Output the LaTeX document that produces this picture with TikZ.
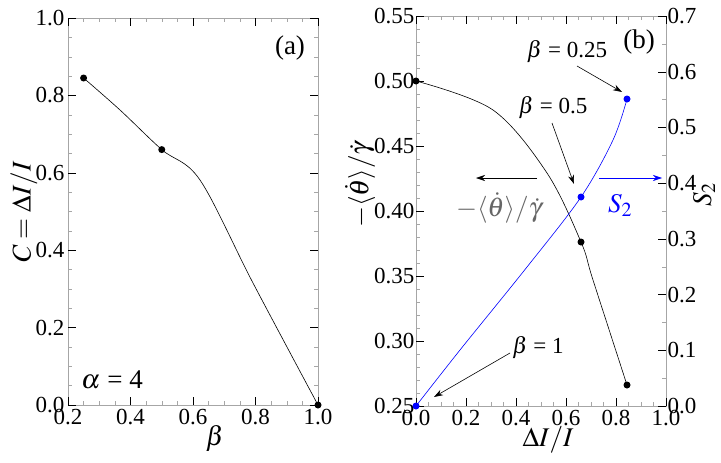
\documentclass[tikz,border=0pt]{standalone}
\usepackage{amsmath}
\usepackage{mathptmx}
\usepackage[no-math]{fontspec}
\setmainfont{Liberation Serif}
\usetikzlibrary{arrows.meta}
\tikzset{
  dot/.style={circle,fill=#1,inner sep=0pt,minimum size=7pt},
  lbl/.style={font=\fontsize{23}{26}\selectfont},
  big/.style={font=\fontsize{27}{30}\selectfont},
  ann/.style={-{Stealth[length=9pt,width=6pt]},semithick},
}
\begin{document}
\begin{tikzpicture}[x=1pt,y=-1pt,lbl]
\useasboundingbox (0,0) rectangle (721,463);
% panel (a)
\draw[gray!70] (68,18) rectangle (318,405);
\foreach \i in {0,...,16}{
  \pgfmathsetmacro\xx{68+\i*15.625}
  \draw[gray!70] (\xx,405)--(\xx,401) (\xx,18)--(\xx,22);}
\foreach \i in {0,...,20}{
  \pgfmathsetmacro\yy{405-\i*19.35}
  \draw[gray!70] (68,\yy)--(72,\yy) (318,\yy)--(314,\yy);}
\foreach \v [count=\k from 0] in {0.2,0.4,0.6,0.8,1.0}{
  \draw (68+\k*62.5,405)--(68+\k*62.5,397) (68+\k*62.5,18)--(68+\k*62.5,26);
  \node[anchor=north] at (68+\k*62.5,406) {\v};}
\foreach \v [count=\k from 0] in {0.0,0.2,0.4,0.6,0.8,1.0}{
  \draw (68,405-\k*77.4)--(76,405-\k*77.4) (318,405-\k*77.4)--(310,405-\k*77.4);
  \node[anchor=east] at (68,405-\k*77.4) {\v};}
\draw[semithick] plot[smooth,tension=0.55] coordinates{(83.6,78) (120,110) (161.75,149.6) (200,180) (253,283) (318,405)};
\node[dot=black] (a1) at (83.6,78) {};
\node[dot=black] (a2) at (161.75,149.6) {};
\node[dot=black] (a3) at (318,405) {};
\node[big] (tagA) at (290,48) {(a)};
\node[big] (alpha) at (112,380) {$\alpha$ = 4};
\node[big] (xlabA) at (215,438) {$\beta$};
\node[big,rotate=90] (ylabA) at (24,212) {$\boldsymbol{C = \Delta I/I}$};
% panel (b)
\draw[gray!70] (416,16) rectangle (666,406);
\foreach \i in {0,...,20}{
  \pgfmathsetmacro\xx{416+\i*12.5}
  \draw[gray!70] (\xx,406)--(\xx,402) (\xx,16)--(\xx,20);}
\foreach \i in {0,...,30}{
  \pgfmathsetmacro\yy{406-\i*13}
  \draw[gray!70] (416,\yy)--(420,\yy);}
\foreach \i in {0,...,14}{
  \pgfmathsetmacro\yy{406-\i*27.857}
  \draw[gray!70] (666,\yy)--(662,\yy);}
\foreach \v [count=\k from 0] in {0.0,0.2,0.4,0.6,0.8,1.0}{
  \draw (416+\k*50,406)--(416+\k*50,398) (416+\k*50,16)--(416+\k*50,24);
  \node[anchor=north] at (416+\k*50,407) {\v};}
\foreach \v [count=\k from 0] in {0.25,0.30,0.35,0.40,0.45,0.50,0.55}{
  \draw (416,406-\k*65)--(424,406-\k*65);
  \node[anchor=east] at (418,406-\k*65) {\v};}
\foreach \v [count=\k from 0] in {0.0,0.1,0.2,0.3,0.4,0.5,0.6,0.7}{
  \draw (666,406-\k*55.714)--(658,406-\k*55.714);
  \node[anchor=west] at (664,406-\k*55.714) {\v};}
\draw[semithick] plot[smooth,tension=0.55] coordinates{(416,81) (493,110) (547,173) (581,242) (593,280) (627,385)};
\draw[semithick,blue] plot[smooth,tension=0.55] coordinates{(416,406) (460,350) (527,267) (581,197) (613,140) (627,99)};
\node[dot=black] (b1) at (416,81) {};
\node[dot=black] (b2) at (581,242) {};
\node[dot=black] (b3) at (627,385) {};
\node[dot=blue] (s1) at (416,406) {};
\node[dot=blue] (s2) at (581,197) {};
\node[dot=blue] (s3) at (627,99) {};
\node[big] (tagB) at (639,42) {(b)};
\node (q25) at (567,52) {$\beta$ = 0.25};
\node (q50) at (553,108) {$\beta$ = 0.5};
\node (q100) at (538,348) {$\beta$ = 1};
\coordinate (e25) at (622,92);
\coordinate (e50) at (574,184);
\coordinate (e100) at (434,397);
\draw[ann] (577,66) -- (e25);
\draw[ann] (552,123) -- (e50);
\draw[ann] (510,353) -- (e100);
\coordinate (wl) at (476,178);
\coordinate (wr) at (662,178);
\draw[ann] (537,178) -- (wl);
\draw[ann,blue] (599,178) -- (wr);
\node[gray!80!black,big] (omega) at (499,208) {$-\langle\dot\theta\rangle/\dot\gamma$};
\node[blue,big] (stwo) at (620,205) {$S_2$};
\node[big] (xlabB) at (548,440) {$\boldsymbol{\Delta I/I}$};
\node[big,rotate=90] (ylabB) at (360,185) {$-\langle\dot\theta\rangle/\dot\gamma$};
\node[big,rotate=90] (ylabS) at (704,195) {$S_2$};
\end{tikzpicture}
\end{document}
